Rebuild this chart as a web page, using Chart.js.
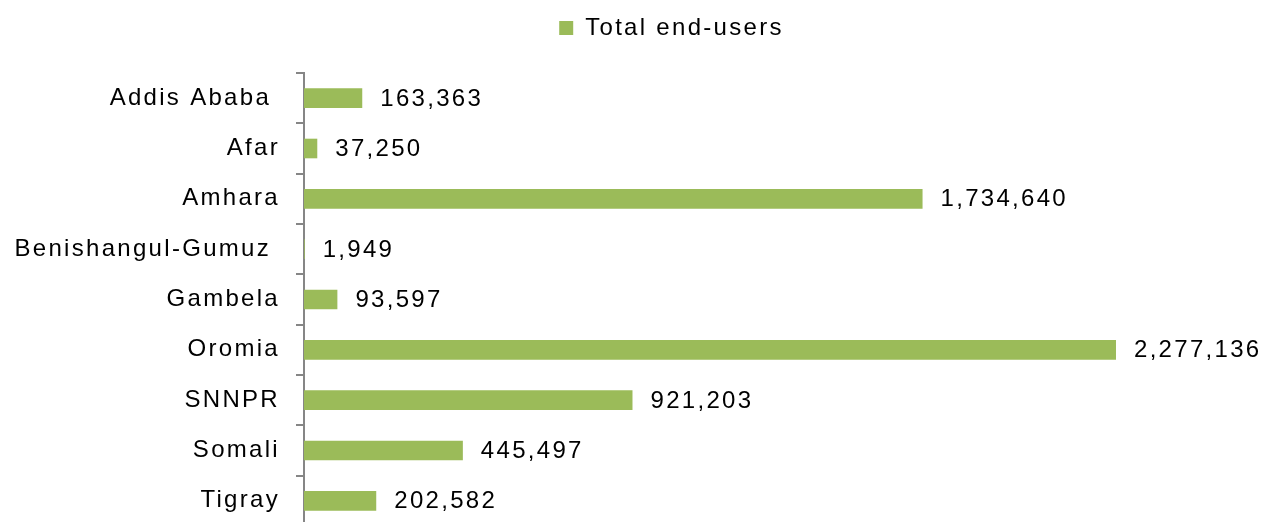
<!DOCTYPE html>
<html>
<head>
<meta charset="utf-8">
<script src="https://cdn.jsdelivr.net/npm/chart.js@4"></script>
<style>
  html, body { margin: 0; padding: 0; background: #fff; overflow: hidden; }
  canvas { display: block; }
</style>
</head>
<body>
<canvas id="c" width="1265" height="530" style="width:1265px;height:530px"></canvas>
<script>
const categories = ["Addis Ababa ", "Afar", "Amhara", "Benishangul-Gumuz ", "Gambela", "Oromia", "SNNPR", "Somali", "Tigray"];
const endUsers = [163363, 37250, 1734640, 1949, 93597, 2277136, 921203, 445497, 202582];
const seriesName = "Total end-users";

const FONT = "'Liberation Sans', Arial, sans-serif";
const GREEN = "#9BBB59";
const GRAY = "#868686";
const LS = "2.3px";

function setSpacing(chart) { if (chart.ctx) chart.ctx.letterSpacing = LS; }

const spacing = {
  id: 'spacing',
  beforeUpdate: setSpacing,
  beforeLayout: setSpacing,
  afterLayout(chart) {
    const lg = chart.legend;
    if (lg) { lg.left += 39; lg.right += 39; }
  },
  beforeDraw: setSpacing,
  beforeDatasetsDraw: setSpacing
};

const valueLabels = {
  id: 'valueLabels',
  afterDatasetsDraw(chart) {
    const ctx = chart.ctx;
    const meta = chart.getDatasetMeta(0);
    ctx.save();
    ctx.letterSpacing = LS;
    ctx.font = "24px " + FONT;
    ctx.fillStyle = "#000";
    ctx.textAlign = "left";
    ctx.textBaseline = "middle";
    meta.data.forEach((bar, i) => {
      const v = chart.data.datasets[0].data[i];
      ctx.fillText(v.toLocaleString('en-US'), bar.x + 18, bar.y + 1);
    });
    ctx.restore();
  }
};

new Chart(document.getElementById('c'), {
  type: 'bar',
  data: {
    labels: categories,
    datasets: [{
      label: seriesName,
      data: endUsers,
      backgroundColor: GREEN,
      borderWidth: 0,
      barPercentage: 0.39,
      categoryPercentage: 1
    }]
  },
  options: {
    indexAxis: 'y',
    responsive: false,
    maintainAspectRatio: false,
    animation: false,
    layout: { padding: { top: 6, left: 0, right: 0, bottom: 4 } },
    plugins: {
      legend: {
        display: true,
        position: 'top',
        weight: 3000,
        labels: {
          boxWidth: 14,
          boxHeight: 14,
          padding: 10,
          color: '#000',
          font: { family: FONT, size: 24 }
        }
      },
      subtitle: {
        display: true,
        text: '',
        font: { size: 1, lineHeight: 1 },
        padding: { top: 0, bottom: 22 }
      },
      tooltip: { enabled: false }
    },
    scales: {
      x: {
        display: false,
        min: 0,
        max: 2695000
      },
      y: {
        afterFit(scale) {
          scale.width = 304;
          scale.paddingTop = 0;
          scale.paddingBottom = 0;
        },
        grid: {
          display: true,
          drawOnChartArea: false,
          drawTicks: true,
          tickLength: 8,
          color: GRAY,
          lineWidth: 2,
          offset: true
        },
        border: { display: true, color: GRAY, width: 2 },
        ticks: {
          color: '#000',
          padding: 16,
          font: { family: FONT, size: 24 }
        }
      }
    }
  },
  plugins: [spacing, valueLabels]
});
</script>
</body>
</html>
